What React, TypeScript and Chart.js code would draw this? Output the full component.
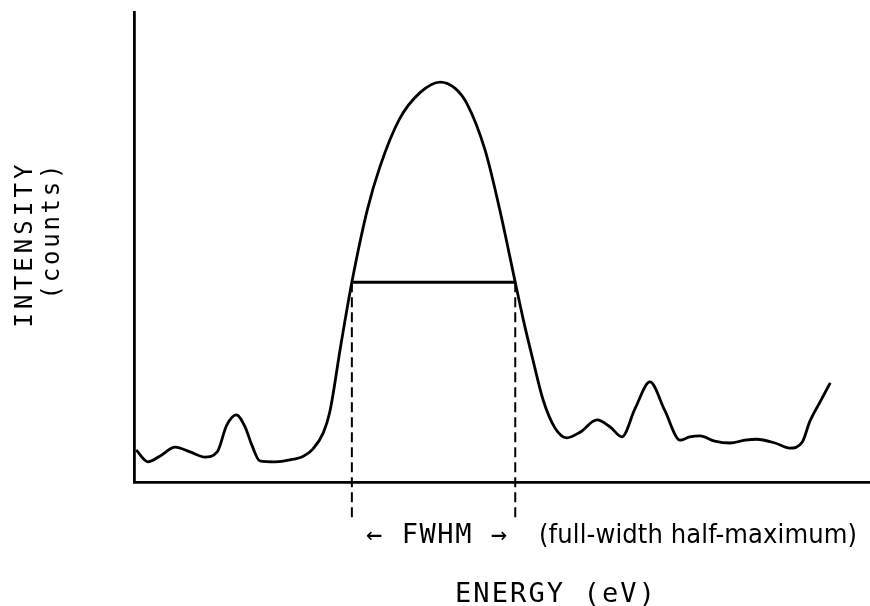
import React, { useEffect, useRef } from 'react';
import { Chart, registerables } from 'chart.js';

Chart.register(...registerables);

// Energy (arbitrary units) and intensity (counts, arbitrary units)
const energy = [0.3, 1.9, 3.5, 5.6, 7.6, 9.6, 11.3, 12.6, 13.9, 15.1, 16.0, 17.1, 19.2, 21.2, 23.0, 24.3, 25.7, 26.6, 28.1, 29.6, 31.7, 33.4, 36.1, 38.9, 41.6, 43.6, 45.2, 47.7, 49.7, 51.8, 52.9, 54.2, 55.6, 57.2, 58.8, 60.6, 62.9, 64.7, 66.3, 68.1, 70.1, 72.1, 74.2, 75.5, 76.9, 78.9, 81.0, 83.0, 84.6, 87.1, 89.1, 90.8, 91.8, 93.2, 94.6];
const counts = [6.8, 4.3, 5.5, 7.4, 6.4, 5.3, 6.4, 12.1, 14.3, 11.7, 7.9, 4.5, 4.3, 4.7, 5.5, 7.0, 10.4, 14.9, 29.1, 42.5, 57.9, 67.0, 77.3, 82.9, 85.1, 83.8, 80.6, 70.6, 57.9, 42.5, 34.5, 26.0, 17.4, 11.5, 9.4, 10.6, 13.2, 11.7, 9.6, 15.7, 21.3, 15.3, 8.9, 9.6, 9.8, 8.7, 8.3, 8.9, 9.1, 8.3, 7.2, 8.5, 12.8, 17.0, 21.1];

const fwhmLevel = 42.5;
const fwhmEdges = [29.6, 51.8];
const dashFloor = -7.7;

const xTitle = 'ENERGY (eV)';
const yTitle = ['INTENSITY', '(counts)'];
const fwhmLabel = '← FWHM →';
const fwhmNote = '(full-width half-maximum)';

function drawText(ctx: CanvasRenderingContext2D, text: string, cx: number, cy: number, family: string, size: number, width: number, angle = 0) {
  ctx.save();
  ctx.translate(cx, cy);
  if (angle) ctx.rotate(angle);
  ctx.font = `${size}px "${family}"`;
  ctx.fillStyle = '#000';
  ctx.textBaseline = 'alphabetic';
  ctx.textAlign = 'left';
  const n = Array.from(text).length;
  const w = ctx.measureText(text).width;
  const base = size * 0.36;
  if (w < width && n > 1) {
    const sp = (width - w) / (n - 1);
    (ctx as any).letterSpacing = sp + 'px';
    ctx.fillText(text, -width / 2, base);
    (ctx as any).letterSpacing = '0px';
  } else {
    const k = width / w;
    ctx.scale(k, 1);
    ctx.fillText(text, -w / 2, base);
  }
  ctx.restore();
}

const labelsPlugin = {
  id: 'labelsPlugin',
  afterDraw(chart: any) {
    const ctx = chart.ctx as CanvasRenderingContext2D;
    const xs = chart.scales.x;
    const area = chart.chartArea;
    const mid = xs.getPixelForValue((fwhmEdges[0] + fwhmEdges[1]) / 2);
    const rowY = area.bottom + 51;
    drawText(ctx, fwhmLabel, mid + 3, rowY, 'DejaVu Sans Mono', 27, 141);
    drawText(ctx, fwhmNote, 698, rowY, 'DejaVu Sans Condensed', 27, 318);
    drawText(ctx, xTitle, 555, area.bottom + 110, 'DejaVu Sans Mono', 27, 200);
    drawText(ctx, yTitle[0], 23, 246, 'DejaVu Sans Mono', 24, 163, -Math.PI / 2);
    drawText(ctx, yTitle[1], 50, 232, 'DejaVu Sans Mono', 24, 135, -Math.PI / 2);
  },
};

export default function App() {
  const ref = useRef<HTMLCanvasElement | null>(null);
  useEffect(() => {
    if (!ref.current) return;
    const curve = energy.map((e, i) => ({ x: e, y: counts[i] }));
    const chart = new Chart(ref.current, {
      type: 'line',
      data: {
        datasets: [
          {
            data: curve,
            borderColor: '#000',
            borderWidth: 2.8,
            pointRadius: 0,
            cubicInterpolationMode: 'monotone',
            fill: false,
          },
          {
            data: [{ x: fwhmEdges[0], y: fwhmLevel }, { x: fwhmEdges[1], y: fwhmLevel }],
            borderColor: '#000',
            borderWidth: 3,
            pointRadius: 0,
          },
          {
            data: [{ x: fwhmEdges[0], y: fwhmLevel }, { x: fwhmEdges[0], y: dashFloor }],
            borderColor: '#000',
            borderWidth: 2,
            borderDash: [10, 5],
            pointRadius: 0,
            clip: false,
          } as any,
          {
            data: [{ x: fwhmEdges[1], y: fwhmLevel }, { x: fwhmEdges[1], y: dashFloor }],
            borderColor: '#000',
            borderWidth: 2,
            borderDash: [10, 5],
            pointRadius: 0,
            clip: false,
          } as any,
        ],
      },
      options: {
        responsive: false,
        animation: false,
        layout: { padding: { left: 134, top: 12, right: 0, bottom: 124 } },
        plugins: { legend: { display: false }, tooltip: { enabled: false } },
        scales: {
          x: {
            type: 'linear',
            min: 0,
            max: 100,
            grid: { display: false, drawTicks: false },
            ticks: { display: false },
            border: { display: true, color: '#000', width: 2.8 },
          },
          y: {
            type: 'linear',
            min: 0,
            max: 100,
            grid: { display: false, drawTicks: false },
            ticks: { display: false },
            border: { display: true, color: '#000', width: 2.8 },
          },
        },
      },
      plugins: [labelsPlugin],
    });
    return () => chart.destroy();
  }, []);
  return (
    <div style={{ position: 'fixed', left: 0, top: 0, width: 870, height: 606, background: '#fff' }}>
      <canvas ref={ref} width={870} height={606} />
    </div>
  );
}
